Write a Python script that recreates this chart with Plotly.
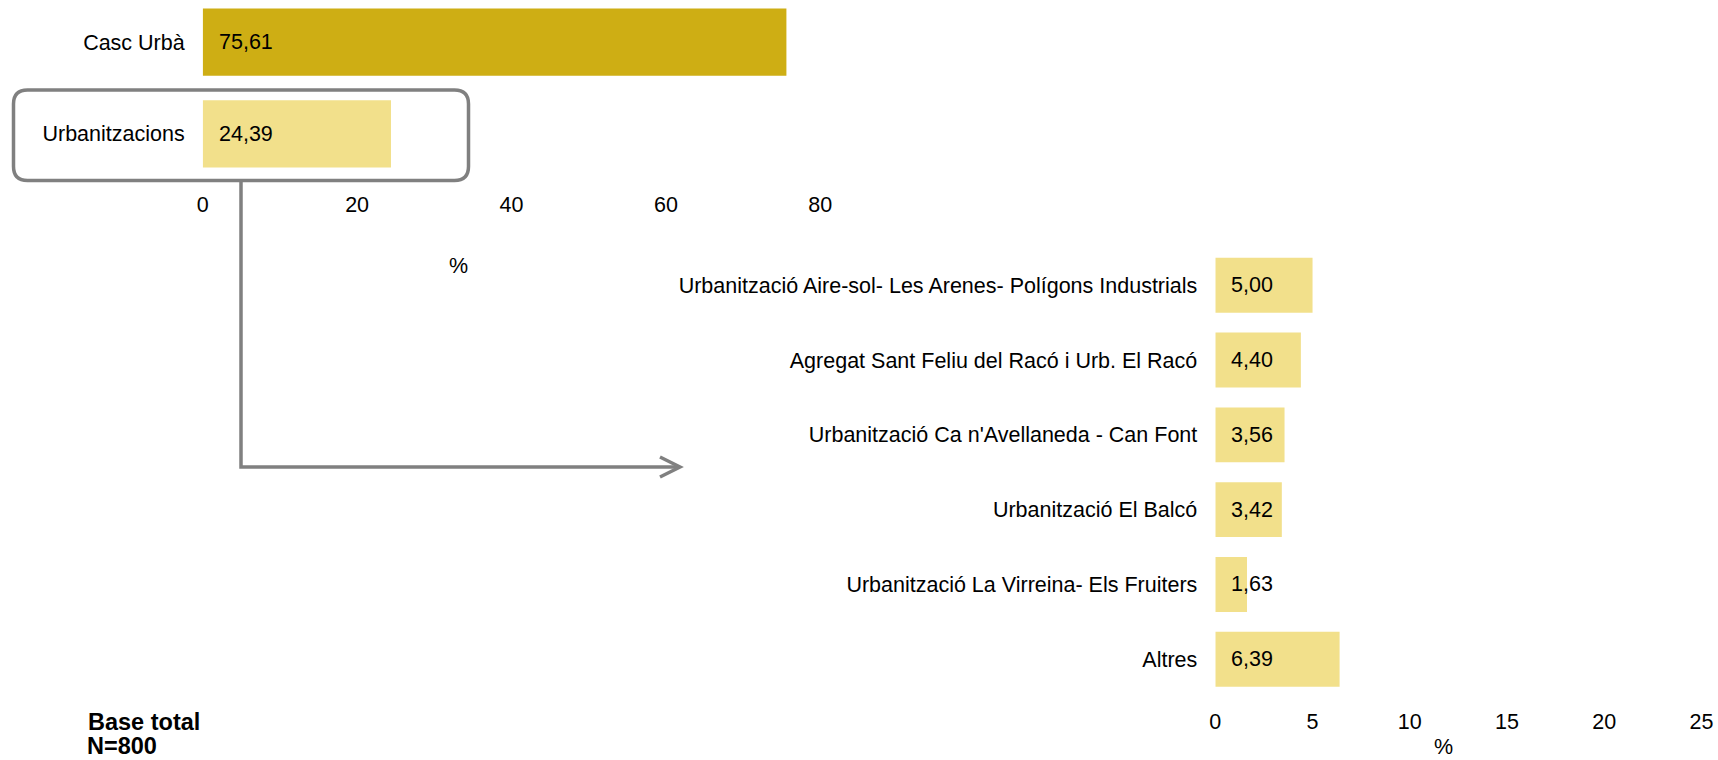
import plotly.graph_objects as go

# --- data -------------------------------------------------------------
zones = ["Casc Urbà", "Urbanitzacions"]
zone_pct = [75.61, 24.39]

urb_names = [
    "Urbanització Aire-sol- Les Arenes- Polígons Industrials",
    "Agregat Sant Feliu del Racó i Urb. El Racó",
    "Urbanització Ca n'Avellaneda - Can Font",
    "Urbanització El Balcó",
    "Urbanització La Virreina- Els Fruiters",
    "Altres",
]
urb_pct = [5.00, 4.40, 3.56, 3.42, 1.63, 6.39]

top_ticks = [0, 20, 40, 60, 80]
bottom_ticks = [0, 5, 10, 15, 20, 25]

base_lines = ["Base total", "N=800"]

# --- layout helpers ---------------------------------------------------
W, H = 1718, 760
FONT = "Liberation Sans, Arial, sans-serif"
SIZE = 21.5
GOLD = "#CEAE14"
PALE = "#F2E08B"
GREY = "#808080"


def px(x):
    return x / W


def py(y):
    return 1 - y / H


def fmt(v):
    return f"{v:.2f}".replace(".", ",")


fig = go.Figure()

fig.add_trace(go.Bar(
    x=zone_pct, y=zones, orientation="h",
    marker=dict(color=[GOLD, PALE], line=dict(width=0)),
    xaxis="x", yaxis="y", hoverinfo="skip",
))
fig.add_trace(go.Bar(
    x=urb_pct, y=urb_names, orientation="h",
    marker=dict(color=PALE, line=dict(width=0)),
    xaxis="x2", yaxis="y2", hoverinfo="skip",
))

label_font = dict(family=FONT, size=SIZE, color="black")
note_font = dict(family=FONT, size=23.5, color="black")

annotations = []
for name, v in zip(zones, zone_pct):
    annotations.append(dict(
        x=0, y=name, xref="x", yref="y", text=fmt(v), showarrow=False,
        xanchor="left", yanchor="middle", xshift=14, font=label_font,
    ))
for name, v in zip(urb_names, urb_pct):
    annotations.append(dict(
        x=0, y=name, xref="x2", yref="y2", text=fmt(v), showarrow=False,
        xanchor="left", yanchor="middle", xshift=14, font=label_font,
    ))

# axis unit labels
annotations.append(dict(x=px(458), y=py(266), xref="paper", yref="paper",
                        text="%", showarrow=False, xanchor="center", yanchor="middle",
                        font=label_font))
annotations.append(dict(x=px(1443), y=0, xref="paper", yref="paper",
                        text="%", showarrow=False, xanchor="center", yanchor="bottom",
                        borderpad=0, font=label_font))

# sample base note
annotations.append(dict(x=px(86), y=py(722), xref="paper", yref="paper",
                        text=f"<b>{base_lines[0]}</b>", showarrow=False,
                        xanchor="left", yanchor="middle", font=note_font))
annotations.append(dict(x=px(86), y=0, xref="paper", yref="paper",
                        text=f"<b>{base_lines[1]}</b>", showarrow=False,
                        xanchor="left", yanchor="bottom", borderpad=0,
                        font=note_font))

# rounded frame around the "Urbanitzacions" row
x0, x1, y0, y1, r = 13.5, 468.5, 90, 180.5, 14
box_path = (
    f"M {px(x0 + r)},{py(y0)} L {px(x1 - r)},{py(y0)} "
    f"Q {px(x1)},{py(y0)} {px(x1)},{py(y0 + r)} "
    f"L {px(x1)},{py(y1 - r)} "
    f"Q {px(x1)},{py(y1)} {px(x1 - r)},{py(y1)} "
    f"L {px(x0 + r)},{py(y1)} "
    f"Q {px(x0)},{py(y1)} {px(x0)},{py(y1 - r)} "
    f"L {px(x0)},{py(y0 + r)} "
    f"Q {px(x0)},{py(y0)} {px(x0 + r)},{py(y0)} Z"
)

# elbow connector with open arrow head
conn_path = (
    f"M {px(241)},{py(181)} L {px(241)},{py(467)} L {px(679)},{py(467)}"
)
head_path = (
    f"M {px(660)},{py(457)} L {px(680)},{py(467)} L {px(660)},{py(477)}"
)

shapes = [
    dict(type="path", path=box_path, xref="paper", yref="paper",
         line=dict(color=GREY, width=3.5), fillcolor="rgba(0,0,0,0)"),
    dict(type="path", path=conn_path, xref="paper", yref="paper",
         line=dict(color=GREY, width=3.5)),
    dict(type="path", path=head_path, xref="paper", yref="paper",
         line=dict(color=GREY, width=3.5)),
]

axis_font = dict(family=FONT, size=SIZE, color="black")
common = dict(showgrid=False, zeroline=False, showline=False, ticks="",
              tickfont=axis_font, fixedrange=True, automargin=False)

fig.update_layout(
    width=W, height=H,
    margin=dict(l=0, r=0, t=0, b=0, autoexpand=False),
    paper_bgcolor="white", plot_bgcolor="white",
    showlegend=False,
    bargap=0.265,
    font=dict(family=FONT, size=SIZE, color="black"),
    xaxis=dict(
        domain=[px(202.7), px(202.7 + 80 * 7.72)], range=[0, 80],
        tickvals=top_ticks, ticktext=[str(t) for t in top_ticks],
        anchor="y", ticklabelstandoff=10, **common,
    ),
    yaxis=dict(
        domain=[py(179.7), 1], type="category",
        categoryorder="array", categoryarray=zones,
        range=[1.5, -0.4597],
        anchor="x", ticklabelstandoff=17, **common,
    ),
    xaxis2=dict(
        domain=[px(1215.3), px(1215.3 + 25 * 19.45)], range=[0, 25],
        tickvals=bottom_ticks, ticktext=[str(t) for t in bottom_ticks],
        anchor="y2", ticklabelstandoff=10, **common,
    ),
    yaxis2=dict(
        domain=[py(696.6), py(247.9)], type="category",
        categoryorder="array", categoryarray=urb_names,
        range=[5.5, -0.5],
        anchor="x2", ticklabelstandoff=17, **common,
    ),
    annotations=annotations,
    shapes=shapes,
)

fig.write_html("out.html")
